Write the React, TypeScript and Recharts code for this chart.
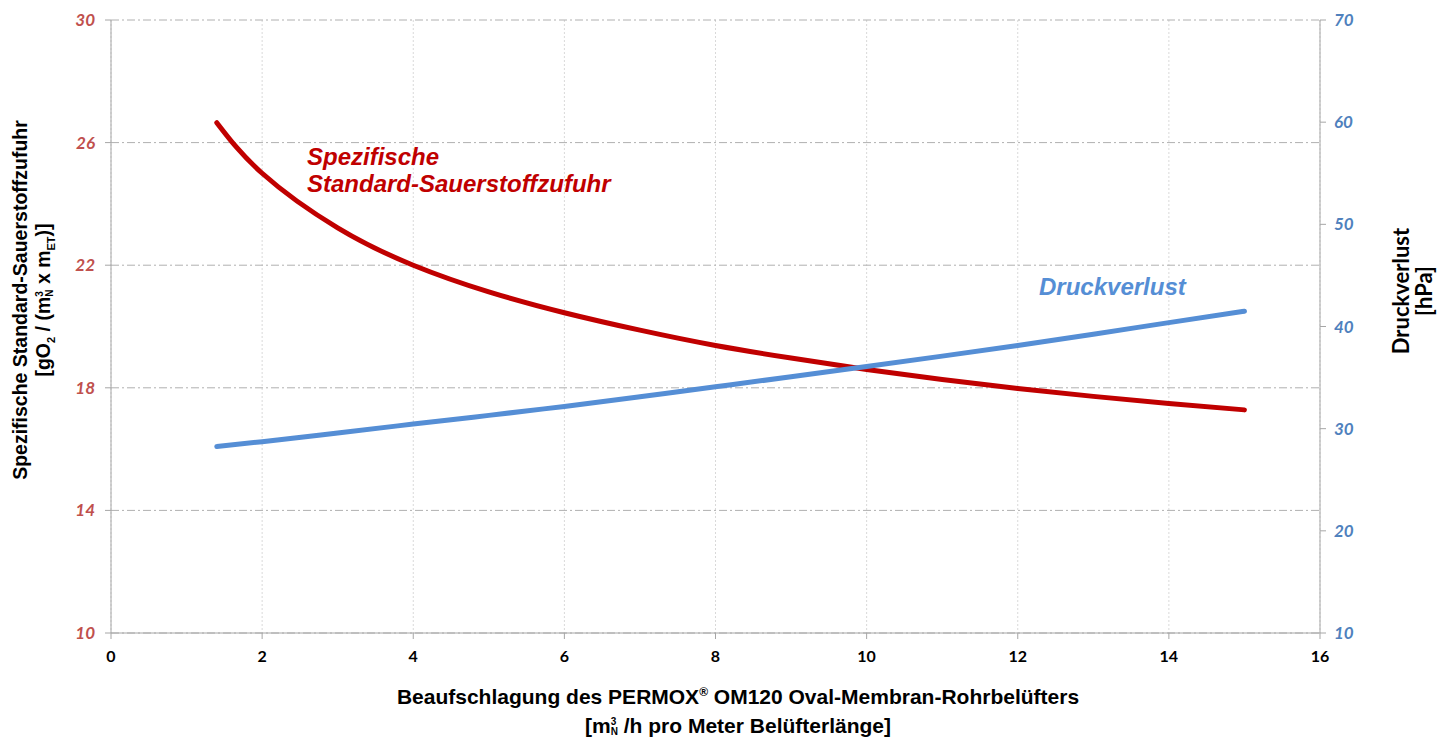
import React from "react";
import {
  ComposedChart, Line, XAxis, YAxis, CartesianGrid,
} from "recharts";

// x = Beaufschlagung [m³N/h pro Meter]
const LOADING = [1.4, 2, 3, 4, 5, 6, 7, 8, 9, 10, 11, 12, 13, 14, 15];
// left axis: spezifische Standard-Sauerstoffzufuhr
const SSOTR = [26.65, 25.0, 23.22, 22.0, 21.13, 20.45, 19.88, 19.38, 18.97, 18.6, 18.27, 17.98, 17.72, 17.49, 17.28];
// right axis: Druckverlust [hPa]
const PRESSURE = [28.25, 28.73, 29.58, 30.45, 31.3, 32.18, 33.12, 34.1, 35.08, 36.08, 37.1, 38.15, 39.25, 40.38, 41.5];

const X_TICKS = [0, 2, 4, 6, 8, 10, 12, 14, 16];
const LEFT_TICKS = [10, 14, 18, 22, 26, 30];
const RIGHT_TICKS = [10, 20, 30, 40, 50, 60, 70];

const RED = "#C00000";
const BLUE = "#558ED5";
const AXIS = "#A6A6A6";

const data = LOADING.map((x, i) => ({ x, ssotr: SSOTR[i], dp: PRESSURE[i] }));

const tickFont = { fontFamily: "Lato, sans-serif", fontWeight: 700 };
const stack = { display: "inline-block", fontSize: 10, lineHeight: "10px", verticalAlign: "middle", textAlign: "left" as const };

export default function App() {
  return (
    <div style={{ position: "absolute", left: 0, top: 0, width: 1437, height: 738, background: "#fff", fontFamily: "'Liberation Sans', Arial, sans-serif", overflow: "hidden" }}>
      <ComposedChart width={1437} height={738} data={data} margin={{ top: 20, right: 0, left: 0, bottom: 0 }}>
        <CartesianGrid vertical horizontal={false} stroke="#D9D9D9" strokeDasharray="2 2" xAxisId="x" yAxisId="left" />
        <CartesianGrid vertical={false} horizontal stroke="#B0B0B0" strokeDasharray="8 3 2 3" xAxisId="x" yAxisId="left" />
        <XAxis
          xAxisId="x" type="number" dataKey="x" domain={[0, 16]} ticks={X_TICKS}
          height={105} tickSize={6} stroke={AXIS} tickLine={{ stroke: AXIS }}
          tick={{ ...tickFont, fontSize: 16, fill: "#000", fontStyle: "normal" }} tickMargin={12}
        />
        <YAxis
          yAxisId="left" orientation="left" type="number" domain={[10, 30]} ticks={LEFT_TICKS}
          width={111} tickSize={6} stroke={AXIS} tickLine={{ stroke: AXIS }} tickMargin={10}
          tick={{ ...tickFont, fontSize: 17, fill: "#C0504D", fontStyle: "italic" }}
        />
        <YAxis
          yAxisId="right" orientation="right" type="number" domain={[10, 70]} ticks={RIGHT_TICKS}
          width={117} tickSize={6} stroke={AXIS} tickLine={{ stroke: AXIS }} tickMargin={8}
          tick={{ ...tickFont, fontSize: 17, fill: "#4F81BD", fontStyle: "italic" }}
        />
        <Line xAxisId="x" yAxisId="left" dataKey="ssotr" type="natural" stroke={RED} strokeWidth={5}
          strokeLinecap="round" dot={false} isAnimationActive={false} />
        <Line xAxisId="x" yAxisId="right" dataKey="dp" type="natural" stroke={BLUE} strokeWidth={5}
          strokeLinecap="round" dot={false} isAnimationActive={false} />
      </ComposedChart>

      {/* series labels */}
      <div style={{ position: "absolute", left: 307, top: 143, color: RED, fontWeight: 700, fontStyle: "italic", fontSize: 24, lineHeight: "27px" }}>
        Spezifische<br />Standard-Sauerstoffzufuhr
      </div>
      <div style={{ position: "absolute", left: 1039, top: 273, color: BLUE, fontWeight: 700, fontStyle: "italic", fontSize: 24, lineHeight: "27px" }}>
        Druckverlust
      </div>

      {/* left axis title */}
      <div style={{ position: "absolute", left: 34 - 250, top: 300 - 25, width: 500, height: 50, transform: "rotate(-90deg)", textAlign: "center", fontWeight: 700, fontSize: 19.5, lineHeight: "23px", color: "#000" }}>
        Spezifische Standard-Sauerstoffzufuhr<br />
        [gO<sub style={{ fontSize: 11 }}>2</sub> / (m<span style={stack}>3<br />N</span> x m<sub style={{ fontSize: 11 }}>ET</sub>)]
      </div>

      {/* right axis title */}
      <div style={{ position: "absolute", left: 1414 - 100, top: 291 - 25, width: 200, height: 50, transform: "rotate(-90deg)", textAlign: "center", fontFamily: "Lato, sans-serif", fontWeight: 700, fontSize: 22, lineHeight: "23px", color: "#000" }}>
        Druckverlust<br />[hPa]
      </div>

      {/* x axis title */}
      <div style={{ position: "absolute", left: 238, top: 682, width: 1000, textAlign: "center", fontWeight: 700, fontSize: 21, lineHeight: "29px", color: "#000" }}>
        Beaufschlagung des PERMOX<sup style={{ fontSize: 12, lineHeight: 0 }}>®</sup> OM120 Oval-Membran-Rohrbelüfters<br />
        [m<span style={stack}>3<br />N</span> /h pro Meter Belüfterlänge]
      </div>
    </div>
  );
}
